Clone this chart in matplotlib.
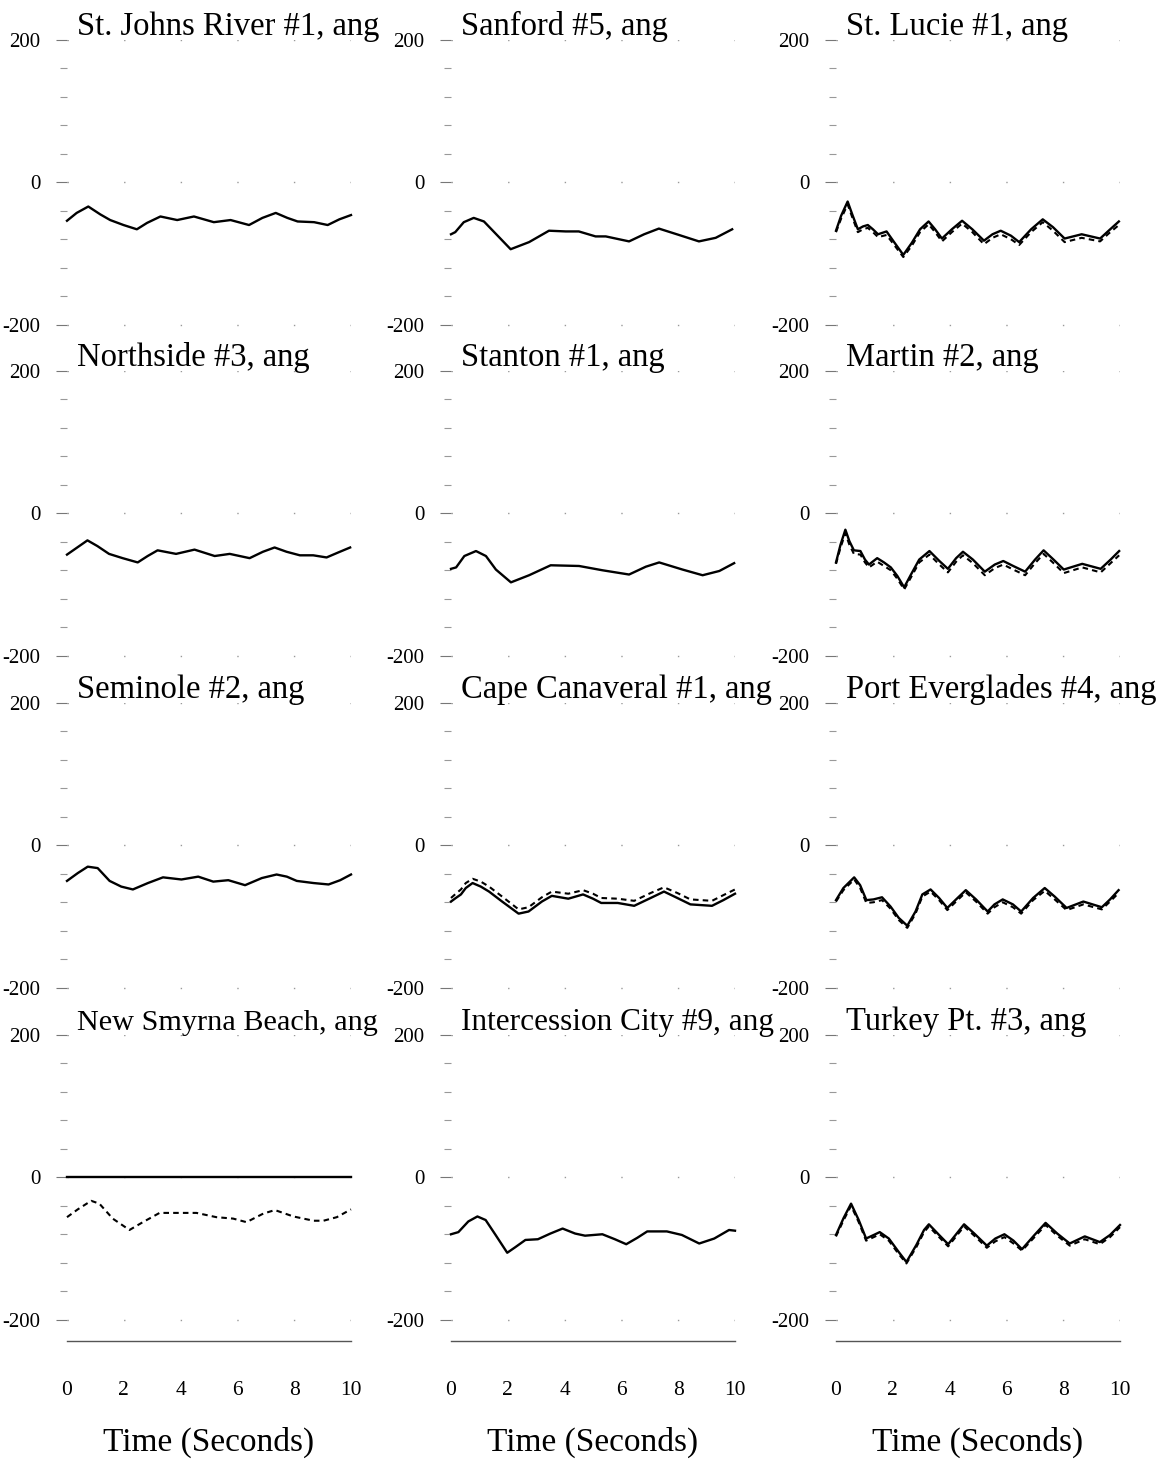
import matplotlib.pyplot as plt
import numpy as np

plt.rcParams['font.family'] = ['Liberation Serif', 'DejaVu Serif']
plt.rcParams['axes.unicode_minus'] = False
plt.rcParams['lines.scale_dashes'] = False

# ---- data (time in s, angle in deg) ----
t_stjohns = [0, 0.34, 0.75, 1.17, 1.52, 1.99, 2.46, 2.82, 3.29, 3.88, 4.47, 5.17, 5.76, 6.41,
             6.88, 7.35, 7.76, 8.12, 8.7, 9.18, 9.59, 10]
v_stjohns = [-54, -43, -34, -45, -53, -60, -66, -57, -48, -53, -48, -56, -53, -60,
             -50, -43, -50, -55, -56, -60, -52, -46]

t_sanford = [0, 0.15, 0.45, 0.8, 1.16, 1.57, 2.1, 2.75, 3.45, 4.04, 4.5, 5.09, 5.45, 6.27,
             6.8, 7.32, 8.03, 8.73, 9.32, 9.9]
v_sanford = [-73, -70, -56, -50, -55, -72, -94, -84, -68, -69, -69, -76, -76, -83,
             -73, -65, -74, -83, -78, -66]

t_stlucie = [0, 0.18, 0.41, 0.59, 0.77, 0.95, 1.12, 1.3, 1.48, 1.78, 2.01, 2.37, 2.67, 2.96,
             3.26, 3.49, 3.73, 4.08, 4.44, 4.8, 5.21, 5.51, 5.8, 6.16, 6.45, 6.87, 7.28,
             7.64, 8.05, 8.65, 9.3, 9.6, 9.96]
v_stlucie = [-68, -47, -27, -47, -66, -62, -60, -66, -73, -69, -82, -102, -85, -66,
             -55, -66, -79, -66, -54, -66, -82, -73, -68, -75, -84, -66, -52,
             -63, -79, -73, -79, -68, -55]
d_stlucie = [-70, -51, -31, -51, -70, -66, -64, -70, -77, -74, -86, -105, -89, -70,
             -59, -70, -83, -70, -58, -70, -87, -78, -73, -80, -88, -70, -56,
             -68, -84, -78, -83, -72, -60]

t_northside = [0, 0.36, 0.72, 1.07, 1.48, 1.96, 2.49, 2.84, 3.19, 3.84, 4.49, 5.2, 5.73, 6.43,
               6.9, 7.31, 7.73, 8.2, 8.67, 9.14, 9.55, 9.97]
v_northside = [-58, -48, -38, -46, -57, -63, -69, -60, -52, -57, -51, -60, -57, -63,
               -54, -48, -54, -59, -59, -62, -55, -48]

t_stanton = [0, 0.18, 0.47, 0.88, 1.23, 1.58, 2.11, 2.75, 3.51, 4.51, 5.33, 6.27, 6.86, 7.33,
             8.15, 8.86, 9.45, 9.97]
v_stanton = [-78, -76, -60, -53, -60, -79, -97, -87, -73, -74, -80, -86, -75, -69,
             -79, -87, -81, -70]

t_martin = [0, 0.16, 0.33, 0.47, 0.63, 0.86, 1.02, 1.16, 1.45, 1.69, 1.93, 2.16, 2.4, 2.64,
            2.93, 3.29, 3.64, 3.94, 4.23, 4.47, 4.82, 5.24, 5.59, 5.89, 6.24, 6.66, 7.01,
            7.31, 7.66, 8.02, 8.67, 9.32, 9.67, 9.97]
v_martin = [-69, -44, -23, -39, -52, -53, -65, -72, -63, -69, -76, -88, -104, -86,
            -65, -53, -67, -78, -63, -54, -65, -82, -72, -67, -74, -82, -65,
            -52, -65, -79, -71, -78, -65, -53]
d_martin = [-71, -48, -28, -44, -57, -58, -69, -76, -68, -74, -80, -92, -107, -90,
            -69, -58, -72, -83, -68, -59, -70, -87, -77, -72, -79, -87, -70,
            -57, -70, -84, -76, -83, -70, -59]

t_seminole = [0, 0.38, 0.73, 1.08, 1.5, 1.91, 2.32, 2.85, 3.38, 4.03, 4.62, 5.15, 5.68, 6.27,
              6.86, 7.38, 7.74, 8.09, 8.68, 9.21, 9.62, 10]
v_seminole = [-50, -39, -30, -32, -50, -58, -62, -53, -45, -48, -44, -51, -49, -56,
              -46, -41, -44, -50, -53, -55, -49, -41]

t_cape = [0, 0.17, 0.35, 0.52, 0.76, 1.05, 1.34, 1.8, 2.38, 2.73, 3.2, 3.55, 4.13, 4.65,
          5.0, 5.29, 5.87, 6.45, 7.03, 7.5, 7.97, 8.43, 9.19, 9.59, 10]
v_cape = [-79, -74, -69, -60, -53, -58, -65, -79, -96, -93, -79, -71, -75, -69,
          -75, -81, -81, -85, -74, -65, -74, -83, -85, -77, -68]
d_cape = [-74, -68, -62, -53, -47, -51, -58, -72, -90, -87, -73, -65, -68, -63,
          -68, -74, -75, -78, -67, -59, -67, -76, -78, -70, -62]

t_everglades = [0, 0.26, 0.64, 0.85, 1.07, 1.32, 1.62, 1.92, 2.21, 2.51, 2.8, 3.04, 3.33, 3.63,
                3.92, 4.28, 4.57, 4.93, 5.34, 5.58, 5.87, 6.23, 6.52, 6.94, 7.35, 7.7, 8.12,
                8.71, 9.36, 9.65, 9.95]
v_everglades = [-77, -60, -45, -56, -77, -76, -73, -86, -102, -113, -93, -69, -62, -74,
                -88, -74, -63, -76, -93, -83, -76, -83, -93, -74, -60, -72, -88,
                -79, -87, -76, -63]
d_everglades = [-79, -63, -48, -60, -81, -80, -77, -89, -105, -116, -96, -72, -65, -77,
                -91, -77, -66, -79, -96, -87, -80, -87, -96, -77, -64, -76, -91,
                -83, -90, -79, -67]

t_smyrna = [0, 0.38, 0.85, 1.14, 1.61, 2.2, 2.67, 3.26, 3.97, 4.56, 5.26, 5.85, 6.32, 6.91,
            7.32, 7.97, 8.68, 9.03, 9.5, 10]
v_smyrna = [0, 0, 0, 0, 0, 0, 0, 0, 0, 0, 0, 0, 0, 0, 0, 0, 0, 0, 0, 0]
d_smyrna = [-56, -45, -33, -37, -58, -74, -63, -50, -50, -50, -56, -58, -63, -51,
            -46, -55, -61, -61, -56, -45]

t_intercession = [0, 0.26, 0.61, 0.93, 1.22, 1.57, 1.98, 2.27, 2.62, 3.06, 3.5, 3.93, 4.37,
                  4.72, 5.33, 5.77, 6.17, 6.56, 6.91, 7.6, 8.13, 8.74, 9.27, 9.79, 10]
v_intercession = [-80, -77, -62, -55, -60, -81, -106, -98, -88, -87, -79, -72, -79,
                  -82, -80, -87, -94, -85, -76, -76, -81, -93, -86, -74, -75]

t_turkey = [0, 0.27, 0.53, 0.8, 1.06, 1.33, 1.54, 1.86, 2.21, 2.48, 2.83, 3.1, 3.27, 3.63,
            3.95, 4.25, 4.51, 4.87, 5.31, 5.61, 5.93, 6.25, 6.55, 6.99, 7.38, 7.79, 8.23,
            8.76, 9.29, 9.65, 10]
v_turkey = [-81, -57, -37, -60, -86, -81, -77, -86, -105, -119, -95, -74, -66, -81,
            -94, -79, -66, -79, -96, -86, -80, -89, -101, -81, -64, -79, -93,
            -83, -91, -81, -67]
d_turkey = [-83, -60, -40, -63, -89, -84, -80, -89, -108, -121, -98, -77, -69, -84,
            -97, -82, -69, -82, -99, -90, -84, -93, -103, -84, -67, -82, -96,
            -87, -94, -84, -70]

titles = ['St. Johns River #1, ang', 'Sanford #5, ang', 'St. Lucie #1, ang',
          'Northside #3, ang', 'Stanton #1, ang', 'Martin #2, ang',
          'Seminole #2, ang', 'Cape Canaveral #1, ang', 'Port Everglades #4, ang',
          'New Smyrna Beach, ang', 'Intercession City #9, ang', 'Turkey Pt. #3, ang']
title_size = [23.5, 23.5, 23.5,
              23.5, 23.5, 23.5,
              23.5, 23.5, 23.5,
              21.8, 22.5, 23.5]

panels = [
    (t_stjohns, v_stjohns, None), (t_sanford, v_sanford, None), (t_stlucie, v_stlucie, d_stlucie),
    (t_northside, v_northside, None), (t_stanton, v_stanton, None), (t_martin, v_martin, d_martin),
    (t_seminole, v_seminole, None), (t_cape, v_cape, d_cape), (t_everglades, v_everglades, d_everglades),
    (t_smyrna, v_smyrna, d_smyrna), (t_intercession, v_intercession, None), (t_turkey, v_turkey, d_turkey),
]

xticks = [0, 2, 4, 6, 8, 10]

# ---- layout in pixels ----
W, H = 1166, 1461
col_left = [67, 451, 836]
col_width = 284
row_top = [40, 371, 703, 1035]
row_height = 306

fig = plt.figure(figsize=(W / 100, H / 100), dpi=100)

for i, (t, solid, dashed) in enumerate(panels):
    r, c = divmod(i, 3)
    ax = fig.add_axes([col_left[c] / W, 1 - (row_top[r] + row_height) / H,
                       col_width / W, row_height / H])
    ax.set_xlim(0, 10)
    ax.set_ylim(-230, 200)
    for s in ax.spines.values():
        s.set_visible(False)
    ax.patch.set_alpha(0)

    ax.set_yticks([-200, 0, 200])
    ax.set_yticklabels(['-200', '0', '200'])
    ax.set_yticks(np.arange(-200, 201, 40), minor=True)
    ax.tick_params(axis='y', which='major', length=8, width=0.8, color='#777',
                   labelsize=15, pad=11)
    ax.tick_params(axis='y', which='minor', length=5, width=0.8, color='#999')

    if r == 3:
        ax.spines['bottom'].set_visible(True)
        ax.spines['bottom'].set_color('#555')
        ax.spines['bottom'].set_linewidth(1)
        ax.set_xticks(xticks)
        ax.set_xticklabels([str(x) for x in xticks])
        ax.tick_params(axis='x', length=0, labelsize=15.5, pad=29)
        ax.set_xlabel('Time (Seconds)', fontsize=24, labelpad=19)
    else:
        ax.set_xticks([])

    # sparse dotted guide lines at the labelled levels
    for yv in (-200, 0, 200):
        ax.axhline(yv, color='#999', lw=1, linestyle=(0, (1, 39.75)), zorder=1)

    ax.plot(t, solid, color='black', lw=1.7, clip_on=False, zorder=3,
            solid_joinstyle='round')
    if dashed is not None:
        ax.plot(t, dashed, color='black', lw=1.5, linestyle=(0, (4, 3)),
                clip_on=False, zorder=3)

    ax.text(0.35, 207, titles[i], fontsize=title_size[i], va='baseline', ha='left',
            clip_on=False)

fig.savefig('out.png', dpi=100)
